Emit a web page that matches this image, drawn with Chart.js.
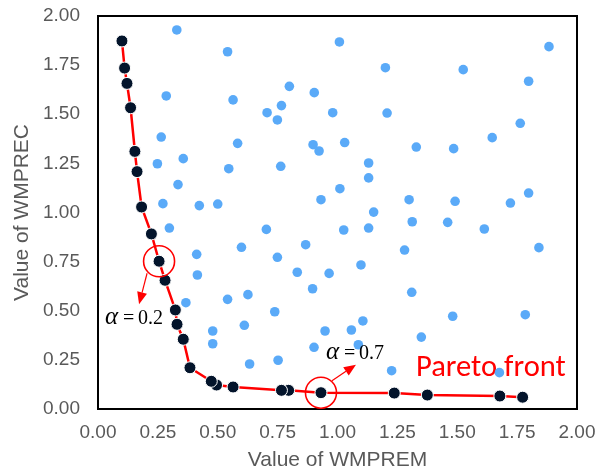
<!DOCTYPE html>
<html>
<head>
<meta charset="utf-8">
<script src="https://cdn.jsdelivr.net/npm/chart.js@4.4.1/dist/chart.umd.min.js"></script>
<style>
  html, body { margin: 0; padding: 0; background: #fff; }
  #wrap { width: 598px; height: 474px; }
</style>
</head>
<body>
<div id="wrap"><canvas id="front"></canvas></div>
<script>
// all evaluated solutions
var solX = [0.329, 0.541, 0.285, 0.564, 0.264, 0.583, 0.356, 0.248, 0.546, 0.334, 0.271, 0.423, 0.500,
            1.008, 1.200, 0.799, 0.903, 0.766, 0.706, 0.749, 0.980, 1.207, 0.898, 0.923, 1.030, 1.329,
            0.763, 1.130, 1.130, 1.010, 0.931, 1.299, 1.151,
            1.883, 1.525, 1.798, 1.763, 1.646, 1.485, 1.798, 1.491, 1.722,
            0.298, 0.599, 0.412, 0.415, 0.626, 0.541, 0.367, 0.611, 0.479, 0.479, 0.633,
            0.703, 1.026, 1.130, 1.312, 0.867, 0.749, 1.280, 0.832, 0.965, 1.098, 0.896, 1.310,
            0.738, 1.106, 0.948, 1.058, 1.087, 0.902, 0.752, 1.226, 1.350,
            1.460, 1.613, 1.841, 1.481, 1.784, 1.676];
var solY = [1.929, 1.818, 1.593, 1.573, 1.384, 1.352, 1.274, 1.248, 1.223, 1.142, 1.045, 1.035, 1.043,
            1.868, 1.737, 1.642, 1.610, 1.544, 1.508, 1.471, 1.508, 1.506, 1.345, 1.313, 1.356, 1.333,
            1.235, 1.252, 1.176, 1.121, 1.065, 1.065, 1.002,
            1.844, 1.727, 1.668, 1.454, 1.381, 1.325, 1.099, 1.057, 1.048,
            0.921, 0.823, 0.787, 0.682, 0.582, 0.558, 0.541, 0.426, 0.397, 0.332, 0.229,
            0.914, 0.911, 0.921, 0.953, 0.836, 0.772, 0.809, 0.696, 0.690, 0.733, 0.612, 0.594,
            0.495, 0.448, 0.397, 0.402, 0.327, 0.314, 0.248, 0.195, 0.366,
            0.950, 0.916, 0.821, 0.472, 0.480, 0.185];

// non-dominated solutions (Pareto front)
var frontX = [0.100, 0.111, 0.121, 0.136, 0.154, 0.163, 0.182, 0.223, 0.255, 0.280, 0.323, 0.330,
              0.356, 0.384, 0.473, 0.495, 0.564, 0.766, 0.796, 0.931, 1.237, 1.375, 1.678, 1.773];
var frontY = [1.873, 1.735, 1.657, 1.533, 1.311, 1.208, 1.028, 0.891, 0.752, 0.655, 0.504, 0.431,
              0.355, 0.210, 0.141, 0.122, 0.112, 0.095, 0.095, 0.083, 0.081, 0.071, 0.066, 0.060];

// highlighted weights and the front point they pick
var alphaLabels = ['0.2', '0.7'];
var alphaIndex = [8, 19];

var axisMin = 0, axisMax = 2, axisStep = 0.25;

var toPoints = function (xs, ys) {
    return xs.map(function (x, i) { return { x: x, y: ys[i] }; });
};

function drawArrow(c, x1, y1, x2, y2) {
    var a = Math.atan2(y2 - y1, x2 - x1);
    var len = 12, half = 5;
    var bx = x2 - len * Math.cos(a), by = y2 - len * Math.sin(a);
    c.beginPath();
    c.moveTo(x1, y1);
    c.lineTo(bx, by);
    c.stroke();
    c.beginPath();
    c.moveTo(x2, y2);
    c.lineTo(bx + half * Math.sin(a), by - half * Math.cos(a));
    c.lineTo(bx - half * Math.sin(a), by + half * Math.cos(a));
    c.closePath();
    c.fill();
}

function drawAlpha(c, x, y, val) {
    c.fillStyle = '#000';
    c.textBaseline = 'alphabetic';
    c.textAlign = 'left';
    c.font = 'italic 25px "Liberation Serif", serif';
    c.fillText('\u03B1', x, y);
    c.font = '20px "Liberation Serif", serif';
    c.fillText('=', x + 18, y);
    c.fillText(val, x + 33, y);
}

var frameAndLabels = {
    id: 'frameAndLabels',
    beforeDatasetsDraw: function (chart) {
        var c = chart.ctx, a = chart.chartArea;
        c.save();
        c.strokeStyle = '#000';
        c.lineWidth = 2;
        c.strokeRect(a.left, a.top, a.right - a.left, a.bottom - a.top);
        var size = 28;
        c.font = size + 'px Carlito, Lato, sans-serif';
        size = size * 150 / c.measureText('Pareto front').width;
        c.font = size.toFixed(1) + 'px Carlito, Lato, sans-serif';
        c.fillStyle = '#FF0000';
        c.textBaseline = 'alphabetic';
        c.fillText('Pareto front', 416, 376);
        c.restore();
    },
    afterDatasetsDraw: function (chart) {
        var c = chart.ctx, xs = chart.scales.x, ys = chart.scales.y;
        var arrowFrom = [[-12, 12], [11, -12]];
        var arrowTo = [[-20, 43], [35, -28]];
        var textAt = [[-54, 63], [5, -34]];
        c.save();
        alphaIndex.forEach(function (idx, k) {
            var px = xs.getPixelForValue(frontX[idx]);
            var py = ys.getPixelForValue(frontY[idx]);
            c.strokeStyle = '#FF0000';
            c.fillStyle = '#FF0000';
            c.lineWidth = 1.6;
            c.beginPath();
            c.arc(px, py, 15.5, 0, Math.PI * 2);
            c.stroke();
            c.lineWidth = 1.2;
            drawArrow(c, px + arrowFrom[k][0], py + arrowFrom[k][1], px + arrowTo[k][0], py + arrowTo[k][1]);
            drawAlpha(c, px + textAt[k][0], py + textAt[k][1], alphaLabels[k]);
        });
        c.restore();
    }
};

var tickFont = { family: '"Liberation Sans", Arial, sans-serif', size: 19 };
var titleFont = { family: '"Liberation Sans", Arial, sans-serif', size: 21 };

var ctx = document.getElementById('front').getContext('2d');
var myChart = new Chart(ctx, {
    type: 'scatter',
    data: {
        datasets: [
            {
                label: 'Pareto front',
                data: toPoints(frontX, frontY).reverse(),
                showLine: true,
                borderColor: '#FF0000',
                borderWidth: 2.5,
                backgroundColor: '#03142B',
                pointBackgroundColor: '#03142B',
                pointBorderColor: '#FFFFFF',
                pointBorderWidth: 1,
                pointRadius: 6,
                tension: 0,
                clip: false
            },
            {
                label: 'Solutions',
                data: toPoints(solX, solY),
                backgroundColor: '#5AAAF8',
                borderColor: '#5AAAF8',
                borderWidth: 0,
                pointRadius: 4.8,
                clip: false
            }
        ]
    },
    plugins: [frameAndLabels],
    options: {
        responsive: true,
        maintainAspectRatio: false,
        animation: false,
        layout: {
            padding: { top: 16, right: 21, left: 0, bottom: 0 }
        },
        plugins: {
            legend: { display: false },
            tooltip: { enabled: false }
        },
        scales: {
            x: {
                type: 'linear',
                min: axisMin,
                max: axisMax,
                afterFit: function (s) {
                    s.height = 65;
                    s.paddingLeft = 0;
                    s.paddingRight = 0;
                },
                grid: { display: false, drawTicks: false },
                border: { display: false },
                ticks: {
                    stepSize: axisStep,
                    padding: 12,
                    color: '#595959',
                    font: tickFont,
                    maxRotation: 0,
                    callback: function (v) { return v.toFixed(2); }
                },
                title: {
                    display: true,
                    text: 'Value of WMPREM',
                    color: '#595959',
                    font: titleFont,
                    padding: { top: 0, bottom: 1 }
                }
            },
            y: {
                type: 'linear',
                min: axisMin,
                max: axisMax,
                afterFit: function (s) {
                    s.width = 98;
                    s.paddingTop = 0;
                    s.paddingBottom = 0;
                },
                grid: { display: false, drawTicks: false },
                border: { display: false },
                ticks: {
                    stepSize: axisStep,
                    padding: 18,
                    color: '#595959',
                    font: tickFont,
                    callback: function (v) { return v.toFixed(2); }
                },
                title: {
                    display: true,
                    text: 'Value of WMPREC',
                    color: '#595959',
                    font: titleFont,
                    padding: { top: 10, bottom: 0 }
                }
            }
        }
    }
});
</script>
</body>
</html>
